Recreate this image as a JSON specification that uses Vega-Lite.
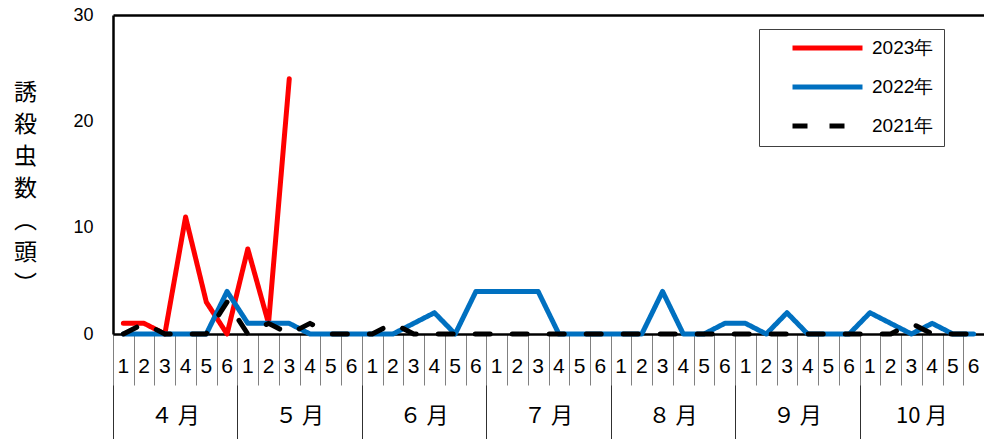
{
  "$schema": "https://vega.github.io/schema/vega-lite/v6.json",
  "width": 871,
  "height": 319,
  "autosize": {"type": "none"},
  "padding": {"left": 113, "top": 15, "right": 0, "bottom": 105},
  "background": "white",
  "config": {"view": {"stroke": null}},
  "datasets": {
    "months": [
      {"m": "４ 月"}, {"m": "５ 月"}, {"m": "６ 月"}, {"m": "７ 月"}, {"m": "８ 月"}, {"m": "９ 月"}, {"m": "10 月"}
    ],
    "counts": [
      {"t": "4月1", "year": "2023年", "v": 1},
      {"t": "4月2", "year": "2023年", "v": 1},
      {"t": "4月3", "year": "2023年", "v": 0},
      {"t": "4月4", "year": "2023年", "v": 11},
      {"t": "4月5", "year": "2023年", "v": 3},
      {"t": "4月6", "year": "2023年", "v": 0},
      {"t": "5月1", "year": "2023年", "v": 8},
      {"t": "5月2", "year": "2023年", "v": 1},
      {"t": "5月3", "year": "2023年", "v": 24},
      {"t": "4月1", "year": "2022年", "v": 0},
      {"t": "4月2", "year": "2022年", "v": 0},
      {"t": "4月3", "year": "2022年", "v": 0},
      {"t": "4月4", "year": "2022年", "v": 0},
      {"t": "4月5", "year": "2022年", "v": 0},
      {"t": "4月6", "year": "2022年", "v": 4},
      {"t": "5月1", "year": "2022年", "v": 1},
      {"t": "5月2", "year": "2022年", "v": 1},
      {"t": "5月3", "year": "2022年", "v": 1},
      {"t": "5月4", "year": "2022年", "v": 0},
      {"t": "5月5", "year": "2022年", "v": 0},
      {"t": "5月6", "year": "2022年", "v": 0},
      {"t": "6月1", "year": "2022年", "v": 0},
      {"t": "6月2", "year": "2022年", "v": 0},
      {"t": "6月3", "year": "2022年", "v": 1},
      {"t": "6月4", "year": "2022年", "v": 2},
      {"t": "6月5", "year": "2022年", "v": 0},
      {"t": "6月6", "year": "2022年", "v": 4},
      {"t": "7月1", "year": "2022年", "v": 4},
      {"t": "7月2", "year": "2022年", "v": 4},
      {"t": "7月3", "year": "2022年", "v": 4},
      {"t": "7月4", "year": "2022年", "v": 0},
      {"t": "7月5", "year": "2022年", "v": 0},
      {"t": "7月6", "year": "2022年", "v": 0},
      {"t": "8月1", "year": "2022年", "v": 0},
      {"t": "8月2", "year": "2022年", "v": 0},
      {"t": "8月3", "year": "2022年", "v": 4},
      {"t": "8月4", "year": "2022年", "v": 0},
      {"t": "8月5", "year": "2022年", "v": 0},
      {"t": "8月6", "year": "2022年", "v": 1},
      {"t": "9月1", "year": "2022年", "v": 1},
      {"t": "9月2", "year": "2022年", "v": 0},
      {"t": "9月3", "year": "2022年", "v": 2},
      {"t": "9月4", "year": "2022年", "v": 0},
      {"t": "9月5", "year": "2022年", "v": 0},
      {"t": "9月6", "year": "2022年", "v": 0},
      {"t": "10月1", "year": "2022年", "v": 2},
      {"t": "10月2", "year": "2022年", "v": 1},
      {"t": "10月3", "year": "2022年", "v": 0},
      {"t": "10月4", "year": "2022年", "v": 1},
      {"t": "10月5", "year": "2022年", "v": 0},
      {"t": "10月6", "year": "2022年", "v": 0},
      {"t": "4月1", "year": "2021年", "v": 0},
      {"t": "4月2", "year": "2021年", "v": 1},
      {"t": "4月3", "year": "2021年", "v": 0},
      {"t": "4月4", "year": "2021年", "v": 0},
      {"t": "4月5", "year": "2021年", "v": 0},
      {"t": "4月6", "year": "2021年", "v": 3},
      {"t": "5月1", "year": "2021年", "v": 0},
      {"t": "5月2", "year": "2021年", "v": 1},
      {"t": "5月3", "year": "2021年", "v": 0},
      {"t": "5月4", "year": "2021年", "v": 1},
      {"t": "5月5", "year": "2021年", "v": 0},
      {"t": "5月6", "year": "2021年", "v": 0},
      {"t": "6月1", "year": "2021年", "v": 0},
      {"t": "6月2", "year": "2021年", "v": 1},
      {"t": "6月3", "year": "2021年", "v": 0},
      {"t": "6月4", "year": "2021年", "v": 0},
      {"t": "6月5", "year": "2021年", "v": 0},
      {"t": "6月6", "year": "2021年", "v": 0},
      {"t": "7月1", "year": "2021年", "v": 0},
      {"t": "7月2", "year": "2021年", "v": 0},
      {"t": "7月3", "year": "2021年", "v": 0},
      {"t": "7月4", "year": "2021年", "v": 0},
      {"t": "7月5", "year": "2021年", "v": 0},
      {"t": "7月6", "year": "2021年", "v": 0},
      {"t": "8月1", "year": "2021年", "v": 0},
      {"t": "8月2", "year": "2021年", "v": 0},
      {"t": "8月3", "year": "2021年", "v": 0},
      {"t": "8月4", "year": "2021年", "v": 0},
      {"t": "8月5", "year": "2021年", "v": 0},
      {"t": "8月6", "year": "2021年", "v": 0},
      {"t": "9月1", "year": "2021年", "v": 0},
      {"t": "9月2", "year": "2021年", "v": 0},
      {"t": "9月3", "year": "2021年", "v": 0},
      {"t": "9月4", "year": "2021年", "v": 0},
      {"t": "9月5", "year": "2021年", "v": 0},
      {"t": "9月6", "year": "2021年", "v": 0},
      {"t": "10月1", "year": "2021年", "v": 0},
      {"t": "10月2", "year": "2021年", "v": 0},
      {"t": "10月3", "year": "2021年", "v": 1},
      {"t": "10月4", "year": "2021年", "v": 0},
      {"t": "10月5", "year": "2021年", "v": 0},
      {"t": "10月6", "year": "2021年", "v": 0}
    ]
  },
  "layer": [
    {
      "data": {"name": "months"},
      "mark": {"type": "point", "opacity": 0},
      "encoding": {
        "x": {
          "field": "m", "type": "nominal",
          "scale": {"type": "band", "domain": ["４ 月", "５ 月", "６ 月", "７ 月", "８ 月", "９ 月", "10 月"], "paddingInner": 0, "paddingOuter": 0},
          "axis": {"orient": "top", "title": null, "labels": false, "ticks": false, "grid": false, "domain": true, "domainColor": "black", "domainWidth": 2.5}
        }
      }
    },
    {
      "data": {"name": "months"},
      "mark": {"type": "point", "opacity": 0},
      "encoding": {
        "x": {
          "field": "m", "type": "nominal",
          "scale": {"type": "band", "domain": ["４ 月", "５ 月", "６ 月", "７ 月", "８ 月", "９ 月", "10 月"], "paddingInner": 0, "paddingOuter": 0},
          "axis": {"orient": "bottom", "title": null, "labels": false, "grid": false, "domain": false, "tickBand": "extent", "tickSize": 105, "tickColor": "#303030", "tickWidth": 1}
        }
      }
    },
    {
      "data": {"name": "months"},
      "mark": {"type": "point", "opacity": 0},
      "encoding": {
        "x": {
          "field": "m", "type": "nominal",
          "scale": {"type": "band", "domain": ["４ 月", "５ 月", "６ 月", "７ 月", "８ 月", "９ 月", "10 月"], "paddingInner": 0, "paddingOuter": 0},
          "axis": {"orient": "bottom", "title": null, "ticks": false, "grid": false, "domain": false, "offset": 71, "labelPadding": 0, "labelAngle": 0, "labelFont": "Noto Sans CJK JP", "labelFontSize": 22, "labelColor": "black"}
        }
      }
    },
    {
      "data": {"name": "counts"},
      "mark": {"type": "point", "opacity": 0},
      "encoding": {
        "x": {
          "field": "t", "type": "nominal",
          "scale": {
            "type": "band",
            "domain": ["4月1","4月2","4月3","4月4","4月5","4月6","5月1","5月2","5月3","5月4","5月5","5月6","6月1","6月2","6月3","6月4","6月5","6月6","7月1","7月2","7月3","7月4","7月5","7月6","8月1","8月2","8月3","8月4","8月5","8月6","9月1","9月2","9月3","9月4","9月5","9月6","10月1","10月2","10月3","10月4","10月5","10月6"],
            "paddingInner": 0, "paddingOuter": 0
          },
          "axis": {"orient": "bottom", "title": null, "ticks": false, "grid": false, "domain": false, "offset": 21, "labelPadding": 0, "labelAngle": 0, "labelExpr": "slice(datum.value, -1)", "labelFont": "Liberation Sans", "labelFontSize": 21, "labelColor": "black"}
        }
      }
    },
    {
      "data": {"name": "counts"},
      "mark": {"type": "line", "strokeWidth": 5, "strokeCap": "round", "strokeJoin": "round"},
      "encoding": {
        "x": {
          "field": "t", "type": "nominal",
          "scale": {
            "type": "band",
            "domain": ["4月1","4月2","4月3","4月4","4月5","4月6","5月1","5月2","5月3","5月4","5月5","5月6","6月1","6月2","6月3","6月4","6月5","6月6","7月1","7月2","7月3","7月4","7月5","7月6","8月1","8月2","8月3","8月4","8月5","8月6","9月1","9月2","9月3","9月4","9月5","9月6","10月1","10月2","10月3","10月4","10月5","10月6"],
            "paddingInner": 0, "paddingOuter": 0
          },
          "axis": {"orient": "bottom", "title": null, "labels": false, "grid": false, "tickBand": "extent", "tickSize": 51, "tickColor": "#808080", "tickWidth": 1, "domainColor": "black", "domainWidth": 2.5}
        },
        "y": {
          "field": "v", "type": "quantitative",
          "scale": {"domain": [0, 30], "nice": false},
          "axis": {
            "values": [0, 10, 20, 30], "grid": false, "ticks": false,
            "title": ["誘", "殺", "虫", "数", "︵", "頭", "︶"],
            "titleAngle": 0, "titleAlign": "center", "titleBaseline": "top",
            "titleX": -88, "titleY": 66, "titleFont": "Noto Sans CJK JP", "titleFontSize": 23,
            "titleFontWeight": "normal", "titleLineHeight": 32, "titleColor": "black",
            "domainColor": "black", "domainWidth": 2.5,
            "labelPadding": 20, "labelFont": "Liberation Sans", "labelFontSize": 18, "labelColor": "black"
          }
        },
        "color": {
          "field": "year", "type": "nominal",
          "scale": {"domain": ["2023年", "2022年", "2021年"], "range": ["#FF0000", "#0070C0", "#000000"]},
          "legend": {
            "orient": "none", "legendX": 646, "legendY": 14, "title": null,
            "symbolType": "stroke", "symbolSize": 4900, "symbolStrokeWidth": 5,
            "clipHeight": 18, "rowPadding": 20, "padding": 10, "symbolOffset": 21, "labelOffset": 7,
            "labelFontSize": 19, "labelFont": "Liberation Sans", "labelColor": "black",
            "strokeColor": "#404040", "fillColor": "white"
          }
        },
        "strokeDash": {
          "field": "year", "type": "nominal",
          "scale": {"domain": ["2023年", "2022年", "2021年"], "range": [[1, 0], [1, 0], [15, 22]]},
          "legend": {
            "orient": "none", "legendX": 646, "legendY": 14, "title": null,
            "symbolType": "stroke", "symbolSize": 4900, "symbolStrokeWidth": 5,
            "clipHeight": 18, "rowPadding": 20, "padding": 10, "symbolOffset": 21, "labelOffset": 7,
            "labelFontSize": 19, "labelFont": "Liberation Sans", "labelColor": "black",
            "strokeColor": "#404040", "fillColor": "white"
          }
        }
      }
    }
  ],
  "resolve": {"scale": {"x": "independent"}, "axis": {"x": "independent"}}
}
